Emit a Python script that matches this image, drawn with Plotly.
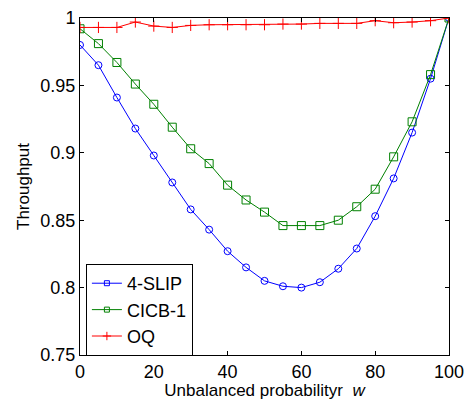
import plotly.graph_objects as go

w = [0, 5, 10, 15, 20, 25, 30, 35, 40, 45, 50, 55, 60, 65, 70, 75, 80, 85, 90, 95, 100]
slip4 = [0.980, 0.965, 0.941, 0.918, 0.898, 0.878, 0.858, 0.843, 0.827, 0.815, 0.805, 0.801,
         0.800, 0.804, 0.814, 0.829, 0.853, 0.881, 0.915, 0.955, 1.000]
cicb1 = [0.992, 0.981, 0.967, 0.951, 0.936, 0.919, 0.903, 0.892, 0.876, 0.865, 0.856, 0.846,
         0.846, 0.846, 0.850, 0.860, 0.873, 0.897, 0.923, 0.958, 1.000]
oq = [0.993, 0.993, 0.993, 0.997, 0.994, 0.993, 0.9945, 0.995, 0.995, 0.995, 0.995, 0.9955,
      0.9955, 0.996, 0.996, 0.996, 0.998, 0.9965, 0.997, 0.998, 1.000]

xticks = [0, 20, 40, 60, 80, 100]
yticks = [0.75, 0.8, 0.85, 0.9, 0.95, 1.0]
yticktext = ["0.75", "0.8", "0.85", "0.9", "0.95", "1"]
xtitle = "Unbalanced probabilityr\u00a0 <i>w</i>"
ytitle = "Throughput"

BLUE = "rgb(0,0,255)"
GREEN = "rgb(0,128,0)"
RED = "rgb(255,0,0)"
FONT = "Liberation Sans, Arial"

fig = go.Figure()
fig.add_trace(go.Scatter(x=w, y=slip4, mode="lines+markers", name="4-SLIP", showlegend=False,
                         line=dict(color=BLUE, width=1),
                         marker=dict(symbol="circle-open", size=7, color=BLUE, line=dict(width=1))))
fig.add_trace(go.Scatter(x=w, y=cicb1, mode="lines+markers", name="CICB-1", showlegend=False,
                         line=dict(color=GREEN, width=1),
                         marker=dict(symbol="square-open", size=8, color=GREEN, line=dict(width=1))))
fig.add_trace(go.Scatter(x=w, y=oq, mode="lines+markers", name="OQ", showlegend=False,
                         line=dict(color=RED, width=1),
                         marker=dict(symbol="cross-thin-open", size=8, color=RED, line=dict(width=1, color=RED))))
# legend entries (legend symbols as drawn in the original figure)
fig.add_trace(go.Scatter(x=[None], y=[None], mode="lines+markers", name="4-SLIP",
                         line=dict(color=BLUE, width=1),
                         marker=dict(symbol="square-open", size=5, color=BLUE, line=dict(width=1))))
fig.add_trace(go.Scatter(x=[None], y=[None], mode="lines+markers", name="CICB-1",
                         line=dict(color=GREEN, width=1),
                         marker=dict(symbol="square-open", size=5, color=GREEN, line=dict(width=1))))
fig.add_trace(go.Scatter(x=[None], y=[None], mode="lines+markers", name="OQ",
                         line=dict(color=RED, width=1),
                         marker=dict(symbol="cross-thin-open", size=6, color=RED, line=dict(width=1, color=RED))))

axis_common = dict(showgrid=False, zeroline=False, showline=True, linecolor="black", linewidth=1,
                   mirror="ticks", ticks="inside", ticklen=4, tickcolor="black", automargin=False,
                   tickfont=dict(family=FONT, size=18, color="black"))

fig.update_layout(
    width=468, height=400,
    margin=dict(l=80, r=19, t=18, b=45),
    paper_bgcolor="white", plot_bgcolor="white",
    font=dict(family=FONT, color="black"),
    xaxis=dict(range=[0, 100], tickvals=xticks, ticklabelstandoff=0,
               title=dict(text=xtitle, font=dict(size=17), standoff=0),
               **axis_common),
    yaxis=dict(range=[0.75, 1.0], tickvals=yticks, ticktext=yticktext,
               title=dict(text=ytitle, font=dict(size=17), standoff=6),
               **axis_common),
    legend=dict(x=0.016, y=-0.003, xanchor="left", yanchor="bottom",
                bgcolor="white", bordercolor="black", borderwidth=1,
                font=dict(family=FONT, size=18, color="black"),
                tracegroupgap=0, itemwidth=30),
)

fig.write_html("out.html", post_script="document.body.style.margin='0';",
               config={"displayModeBar": False})
